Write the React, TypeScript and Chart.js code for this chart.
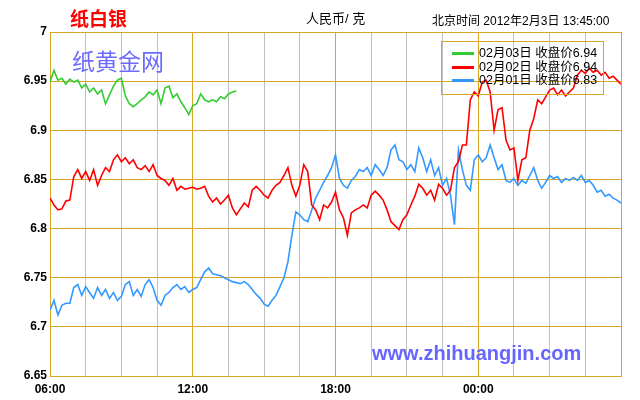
import React, { useEffect, useRef } from "react";
import { Chart, registerables } from "chart.js";

Chart.register(...registerables);

// minutes after 06:00 between consecutive readings
const STEP_MINUTES = 10;
const X_MAX_MINUTES = 1440;

const xTickLabels = ["06:00", "12:00", "18:00", "00:00"];
const yMin = 6.65;
const yMax = 7;
const yStep = 0.05;

// 02月03日 (06:00 - 13:45)
const green0203 = [
  6.949, 6.961, 6.951, 6.953, 6.947, 6.952, 6.949, 6.951, 6.943, 6.947,
  6.939, 6.943, 6.937, 6.941, 6.927, 6.936, 6.945, 6.951, 6.953, 6.935,
  6.927, 6.924, 6.927, 6.931, 6.934, 6.939, 6.936, 6.941, 6.927, 6.943,
  6.945, 6.933, 6.937, 6.929, 6.923, 6.916, 6.925, 6.927, 6.937, 6.931,
  6.929, 6.931, 6.929, 6.934, 6.932, 6.937, 6.939, 6.940,
];

// 02月02日 (06:00 - 06:00)
const red0202 = [
  6.831, 6.824, 6.819, 6.820, 6.828, 6.829, 6.853, 6.860, 6.851, 6.858,
  6.849, 6.860, 6.844, 6.854, 6.862, 6.858, 6.870, 6.875, 6.868, 6.872,
  6.866, 6.870, 6.862, 6.860, 6.864, 6.858, 6.865, 6.854, 6.851, 6.849,
  6.844, 6.851, 6.839, 6.843, 6.840, 6.841, 6.842, 6.840, 6.841, 6.843,
  6.833, 6.827, 6.831, 6.825, 6.829, 6.834, 6.821, 6.814, 6.820, 6.826,
  6.822, 6.839, 6.843, 6.839, 6.834, 6.831, 6.839, 6.844, 6.847, 6.854,
  6.862, 6.844, 6.833, 6.844, 6.865, 6.858, 6.824, 6.819, 6.809, 6.824,
  6.821, 6.827, 6.837, 6.819, 6.811, 6.793, 6.816, 6.819, 6.821, 6.824,
  6.821, 6.834, 6.838, 6.834, 6.829, 6.819, 6.807, 6.803, 6.799, 6.809,
  6.814, 6.824, 6.833, 6.845, 6.841, 6.834, 6.839, 6.829, 6.845, 6.841,
  6.834, 6.839, 6.862, 6.868, 6.885, 6.885, 6.931, 6.939, 6.935, 6.949,
  6.951, 6.939, 6.900, 6.921, 6.923, 6.890, 6.880, 6.882, 6.849, 6.870,
  6.872, 6.900, 6.912, 6.931, 6.927, 6.934, 6.941, 6.943, 6.936, 6.941,
  6.935, 6.939, 6.943, 6.956, 6.961, 6.958, 6.963, 6.959, 6.961, 6.956,
  6.959, 6.953, 6.955, 6.951, 6.947,
];

// 02月01日 (06:00 - 06:00)
const blue0201 = [
  6.717, 6.727, 6.712, 6.722, 6.724, 6.724, 6.740, 6.743, 6.732, 6.741,
  6.735, 6.729, 6.740, 6.732, 6.738, 6.729, 6.735, 6.727, 6.731, 6.743,
  6.746, 6.732, 6.738, 6.731, 6.743, 6.748, 6.740, 6.727, 6.722, 6.732,
  6.735, 6.740, 6.743, 6.738, 6.741, 6.735, 6.738, 6.740, 6.748, 6.756,
  6.760, 6.754, 6.753, 6.752, 6.750, 6.748, 6.746, 6.745, 6.744, 6.746,
  6.743, 6.738, 6.733, 6.729, 6.723, 6.721, 6.727, 6.732, 6.741, 6.750,
  6.766, 6.793, 6.817, 6.814, 6.809, 6.807, 6.819, 6.831, 6.839, 6.847,
  6.854, 6.862, 6.875, 6.851, 6.844, 6.841, 6.849, 6.853, 6.860, 6.858,
  6.862, 6.854, 6.865, 6.860, 6.854, 6.862, 6.880, 6.885, 6.870, 6.868,
  6.860, 6.865, 6.858, 6.882, 6.872, 6.858, 6.870, 6.854, 6.862, 6.844,
  6.851, 6.834, 6.804, 6.880, 6.860, 6.844, 6.839, 6.870, 6.875, 6.868,
  6.872, 6.885, 6.872, 6.860, 6.865, 6.849, 6.847, 6.851, 6.844, 6.849,
  6.846, 6.854, 6.862, 6.849, 6.841, 6.847, 6.854, 6.851, 6.853, 6.847,
  6.851, 6.849, 6.852, 6.849, 6.854, 6.847, 6.849, 6.844, 6.837, 6.839,
  6.833, 6.835, 6.831, 6.829, 6.826,
];

const seriesNames = ["02月03日", "02月02日", "02月01日"];
const closePrices = ["6.94", "6.94", "6.83"];
const seriesColors = ["#33cc33", "#ff0000", "#3399ff"];

const GOLD = "#daa520";
const GREY = "#c0c0c0";
const TEXT_FONT = '"Liberation Sans", Arial, "Noto Sans CJK SC", sans-serif';

const toPoints = (values: number[]) =>
  values.map((v, i) => ({ x: i * STEP_MINUTES, y: v }));

export default function App() {
  const canvasRef = useRef<HTMLCanvasElement | null>(null);

  useEffect(() => {
    const canvas = canvasRef.current;
    if (!canvas) return;
    const seriesData = [green0203, red0202, blue0201];
    const chart = new Chart(canvas, {
      type: "line",
      data: {
        datasets: seriesData.map((vals, i) => ({
          label: seriesNames[i],
          data: toPoints(vals),
          borderColor: seriesColors[i],
          backgroundColor: seriesColors[i],
          borderWidth: 1.6,
          pointRadius: 0,
          tension: 0,
          fill: false,
        })),
      },
      options: {
        animation: false,
        responsive: false,
        events: [],
        layout: { padding: { top: 32, right: 19, left: 0, bottom: 0 } },
        plugins: {
          legend: { display: false },
          tooltip: { enabled: false },
          title: { display: false },
        },
        scales: {
          x: {
            type: "linear",
            min: 0,
            max: X_MAX_MINUTES,
            afterFit: (scale: any) => {
              scale.height = 24;
            },
            afterBuildTicks: (scale: any) => {
              const ticks = [];
              for (let m = 0; m <= X_MAX_MINUTES; m += 90) ticks.push({ value: m });
              scale.ticks = ticks;
            },
            ticks: {
              autoSkip: false,
              maxRotation: 0,
              padding: 6,
              color: "#000",
              font: { family: TEXT_FONT, size: 12, weight: "bold" },
              callback: (value: any) => {
                const v = Number(value);
                if (v % 360 === 0 && v < X_MAX_MINUTES) return xTickLabels[v / 360];
                return "";
              },
            },
            grid: {
              drawTicks: false,
              lineWidth: 1,
              color: (ctx: any) =>
                ctx.tick && ctx.tick.value % 360 === 0 ? GOLD : GREY,
            },
            border: { display: true, color: GOLD, width: 1 },
          },
          y: {
            min: yMin,
            max: yMax,
            afterFit: (scale: any) => {
              scale.width = 50;
            },
            ticks: {
              stepSize: yStep,
              padding: 3,
              color: "#000",
              font: { family: TEXT_FONT, size: 12, weight: "bold" },
              callback: (value: any) => String(Number(Number(value).toFixed(2))),
            },
            grid: { drawTicks: false, color: GOLD, lineWidth: 1 },
            border: { display: true, color: GOLD, width: 1 },
          },
        },
      },
    });
    return () => chart.destroy();
  }, []);

  const abs = (extra: React.CSSProperties): React.CSSProperties => ({
    position: "absolute",
    whiteSpace: "nowrap",
    pointerEvents: "none",
    fontFamily: TEXT_FONT,
    ...extra,
  });

  return (
    <div
      style={{
        position: "absolute",
        left: 0,
        top: 0,
        width: 640,
        height: 400,
        background: "#fff",
        overflow: "hidden",
      }}
    >
      <canvas ref={canvasRef} width={640} height={400} style={{ display: "block" }} />
      <div
        style={abs({
          left: 70,
          top: 7,
          fontSize: 19,
          lineHeight: "21px",
          fontWeight: "bold",
          color: "#ff0000",
          fontFamily: '"Noto Sans CJK SC", sans-serif',
        })}
      >
        纸白银
      </div>
      <div style={abs({ left: 306, top: 11, fontSize: 13, lineHeight: "15px", color: "#000" })}>
        人民币/ 克
      </div>
      <div style={abs({ left: 432, top: 14, fontSize: 12, lineHeight: "14px", color: "#000" })}>
        北京时间 2012年2月3日 13:45:00
      </div>
      <div
        style={abs({
          left: 72,
          top: 47,
          fontSize: 23,
          lineHeight: "26px",
          color: "#6b6bff",
          fontFamily: '"Noto Sans CJK SC", sans-serif',
        })}
      >
        纸黄金网
      </div>
      <div
        style={abs({
          left: 372,
          top: 342,
          fontSize: 20,
          lineHeight: "22px",
          fontWeight: "bold",
          color: "#6666ff",
        })}
      >
        www.zhihuangjin.com
      </div>
      <div
        style={abs({
          left: 441,
          top: 41,
          width: 161,
          height: 52,
          border: `1px solid ${GOLD}`,
        })}
      >
        {seriesNames.map((name, i) => (
          <div
            key={name}
            style={{
              position: "absolute",
              left: 0,
              top: 4 + i * 13.5,
              height: 14,
              width: 161,
            }}
          >
            <div
              style={{
                position: "absolute",
                left: 10,
                top: 6,
                width: 22,
                height: 3,
                background: seriesColors[i],
              }}
            />
            <div
              style={{
                position: "absolute",
                left: 37,
                top: 0,
                fontSize: 12.5,
                lineHeight: "14px",
                color: "#000",
                whiteSpace: "nowrap",
              }}
            >
              {name} 收盘价{closePrices[i]}
            </div>
          </div>
        ))}
      </div>
    </div>
  );
}
